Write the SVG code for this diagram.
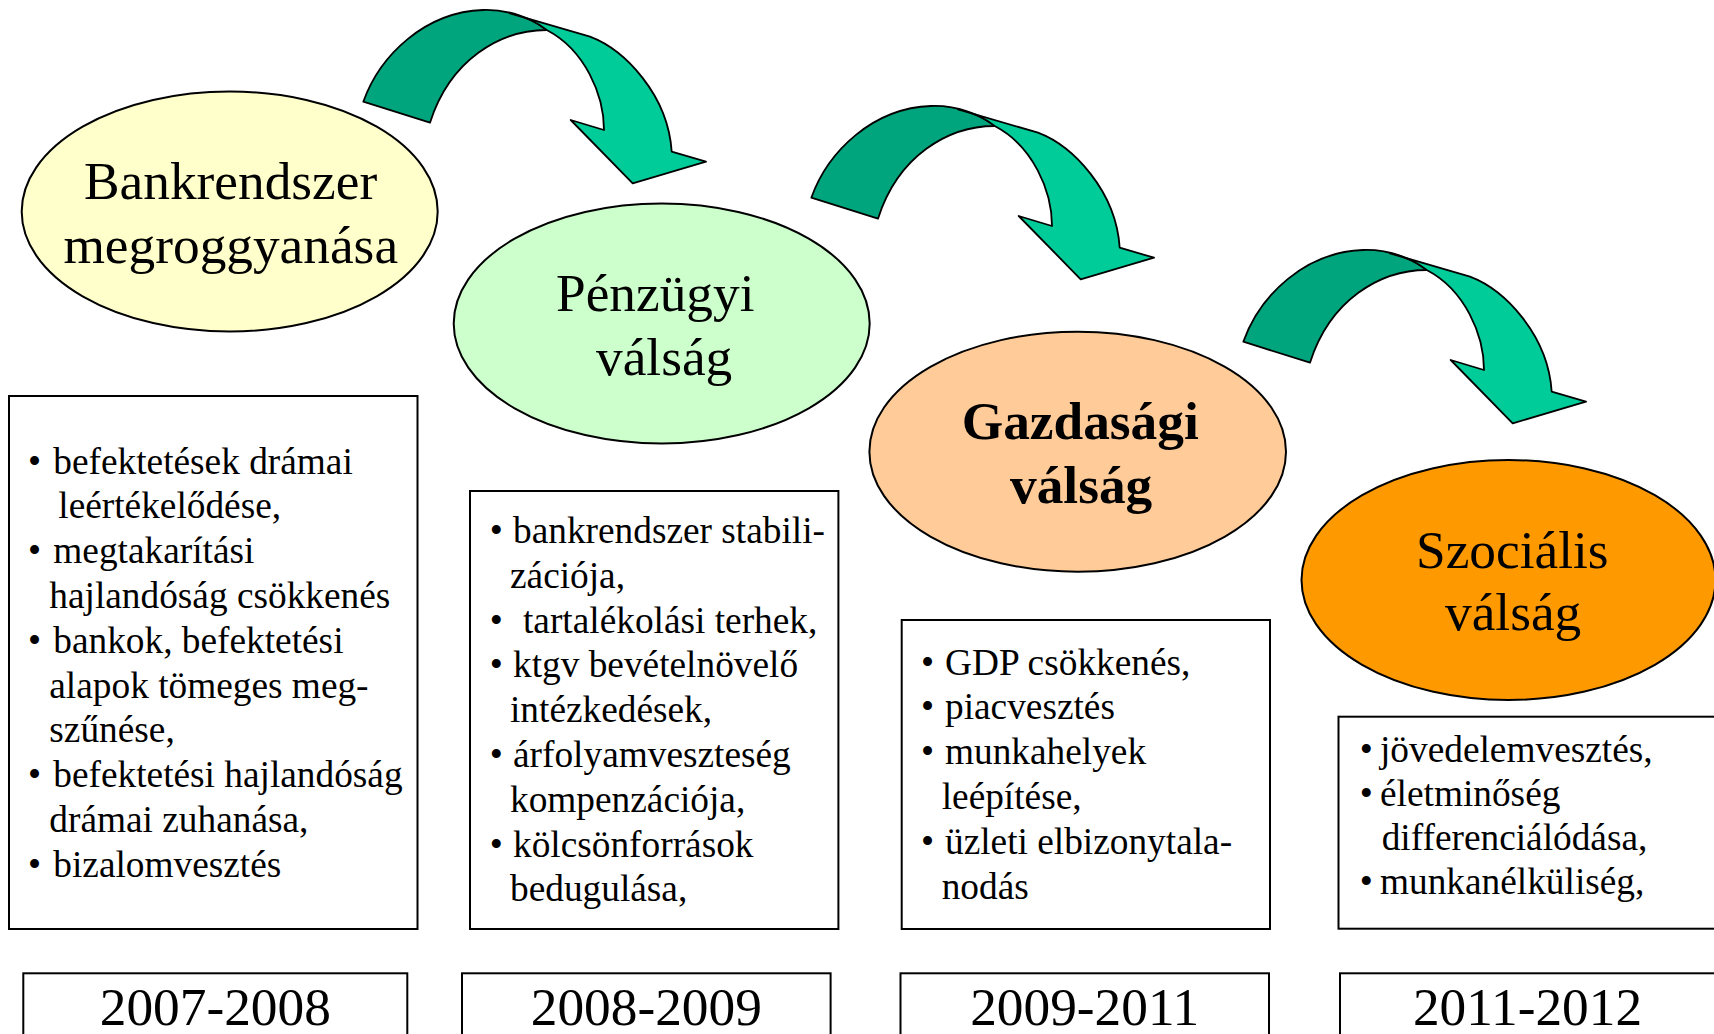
<svg xmlns="http://www.w3.org/2000/svg" width="1714" height="1034" viewBox="0 0 1714 1034">
<style>
  .big { font-family: "Liberation Serif", "Times New Roman", serif; font-size: 53.33px; fill: #000; }
  .bold { font-weight: bold; }
  .yr { font-family: "Liberation Serif", "Times New Roman", serif; font-size: 53.33px; fill: #000; text-anchor: middle; }
  .item { font-family: "Liberation Serif", "Times New Roman", serif; font-size: 37.33px; fill: #000; }
  .ell { stroke: #000; stroke-width: 2; }
  .box { fill: #fff; stroke: #000; stroke-width: 2; }
  .dark { fill: #00A57D; stroke: #000; stroke-width: 1.8; stroke-linejoin: round; }
  .light { fill: #00CC99; stroke: #000; stroke-width: 1.8; stroke-linejoin: round; }
</style>
<rect width="1714" height="1034" fill="#fff"/>

<g id="connectors">
  <g id="arrow1">
    <path class="dark" d="M363.3,101.7 C380,55 425,12 483,10 C510,9 535,20 546.7,30 C500,30 450,60 430,122.7 Z"/>
    <path class="light" d="M510,13.3 L590,36.7 C625,50 668,95 671.7,151.7 L706,161.7 L632.7,183.3 L570.7,120 L604,130 C604,95 585,50 546.7,30 Q532,18 510,13.3 Z"/>
  </g>
  <g id="arrow2" transform="translate(448,96)">
    <path class="dark" d="M363.3,101.7 C380,55 425,12 483,10 C510,9 535,20 546.7,30 C500,30 450,60 430,122.7 Z"/>
    <path class="light" d="M510,13.3 L590,36.7 C625,50 668,95 671.7,151.7 L706,161.7 L632.7,183.3 L570.7,120 L604,130 C604,95 585,50 546.7,30 Q532,18 510,13.3 Z"/>
  </g>
  <g id="arrow3" transform="translate(880,240)">
    <path class="dark" d="M363.3,101.7 C380,55 425,12 483,10 C510,9 535,20 546.7,30 C500,30 450,60 430,122.7 Z"/>
    <path class="light" d="M510,13.3 L590,36.7 C625,50 668,95 671.7,151.7 L706,161.7 L632.7,183.3 L570.7,120 L604,130 C604,95 585,50 546.7,30 Q532,18 510,13.3 Z"/>
  </g>
</g>

<g id="node-bankrendszer">
  <ellipse class="ell" cx="229.7" cy="211.5" rx="208" ry="120" fill="#FFFFCC"/>
  <text class="big" x="84" y="199">Bankrendszer</text>
  <text class="big" x="63.4" y="263">megroggyanása</text>
</g>

<g id="node-penzugyi">
  <ellipse class="ell" cx="661.7" cy="323.5" rx="208" ry="120" fill="#CCFFCC"/>
  <text class="big" x="556" y="311">Pénzügyi</text>
  <text class="big" x="596" y="375">válság</text>
</g>

<g id="node-gazdasagi">
  <ellipse class="ell" cx="1077.7" cy="451.7" rx="208.3" ry="120" fill="#FFCC99"/>
  <text class="big bold" x="961.7" y="439.3">Gazdasági</text>
  <text class="big bold" x="1010" y="503">válság</text>
</g>

<g id="node-szocialis">
  <ellipse class="ell" cx="1508.5" cy="580" rx="207" ry="120" fill="#FF9900"/>
  <text class="big" x="1416" y="568">Szociális</text>
  <text class="big" x="1445" y="630">válság</text>
</g>

<g id="box-1">
  <rect class="box" x="9" y="396" width="408.5" height="533"/>
  <text class="item"><tspan x="28" y="473.5">•</tspan><tspan x="53.3" y="473.5">befektetések drámai</tspan></text>
  <text class="item" x="58.3" y="518.3">leértékelődése,</text>
  <text class="item"><tspan x="28" y="563.1">•</tspan><tspan x="53.3" y="563.1">megtakarítási</tspan></text>
  <text class="item" x="49.3" y="607.9">hajlandóság csökkenés</text>
  <text class="item"><tspan x="28" y="652.7">•</tspan><tspan x="53.3" y="652.7">bankok, befektetési</tspan></text>
  <text class="item" x="49.3" y="697.5">alapok tömeges meg-</text>
  <text class="item" x="49.3" y="742.3">szűnése,</text>
  <text class="item"><tspan x="28" y="787.1">•</tspan><tspan x="53.3" y="787.1">befektetési hajlandóság</tspan></text>
  <text class="item" x="49.3" y="831.9">drámai zuhanása,</text>
  <text class="item"><tspan x="28" y="876.7">•</tspan><tspan x="53.3" y="876.7">bizalomvesztés</tspan></text>
</g>

<g id="box-2">
  <rect class="box" x="470" y="491" width="368.4" height="438"/>
  <text class="item"><tspan x="489.7" y="543">•</tspan><tspan x="513" y="543">bankrendszer stabili-</tspan></text>
  <text class="item" x="510" y="587.8">zációja,</text>
  <text class="item"><tspan x="489.7" y="632.6">•</tspan><tspan x="523" y="632.6">tartalékolási terhek,</tspan></text>
  <text class="item"><tspan x="489.7" y="677.4">•</tspan><tspan x="513" y="677.4">ktgv bevételnövelő</tspan></text>
  <text class="item" x="510" y="722.2">intézkedések,</text>
  <text class="item"><tspan x="489.7" y="767">•</tspan><tspan x="513" y="767">árfolyamveszteség</tspan></text>
  <text class="item" x="510" y="811.8">kompenzációja,</text>
  <text class="item"><tspan x="489.7" y="856.6">•</tspan><tspan x="513" y="856.6">kölcsönforrások</tspan></text>
  <text class="item" x="510" y="901.4">bedugulása,</text>
</g>

<g id="box-3">
  <rect class="box" x="901.7" y="620" width="368.3" height="309"/>
  <text class="item"><tspan x="921" y="674.5">•</tspan><tspan x="945" y="674.5">GDP csökkenés,</tspan></text>
  <text class="item"><tspan x="921" y="719.3">•</tspan><tspan x="945" y="719.3">piacvesztés</tspan></text>
  <text class="item"><tspan x="921" y="764.1">•</tspan><tspan x="945" y="764.1">munkahelyek</tspan></text>
  <text class="item" x="941.7" y="808.9">leépítése,</text>
  <text class="item"><tspan x="921" y="853.7">•</tspan><tspan x="945" y="853.7">üzleti elbizonytala-</tspan></text>
  <text class="item" x="941.7" y="898.5">nodás</text>
</g>

<g id="box-4">
  <rect class="box" x="1338.5" y="716.7" width="390" height="212"/>
  <text class="item"><tspan x="1359.7" y="762">•</tspan><tspan x="1380" y="762">jövedelemvesztés,</tspan></text>
  <text class="item"><tspan x="1359.7" y="806">•</tspan><tspan x="1380" y="806">életminőség</tspan></text>
  <text class="item" x="1381.7" y="850">differenciálódása,</text>
  <text class="item"><tspan x="1359.7" y="894">•</tspan><tspan x="1380" y="894">munkanélküliség,</tspan></text>
</g>

<g id="year-1">
  <rect class="box" x="23.3" y="973.3" width="384" height="80"/>
  <text class="yr" x="215.3" y="1025">2007-2008</text>
</g>
<g id="year-2">
  <rect class="box" x="462" y="973.3" width="368.6" height="80"/>
  <text class="yr" x="646.3" y="1025">2008-2009</text>
</g>
<g id="year-3">
  <rect class="box" x="900.5" y="973.3" width="368.5" height="80"/>
  <text class="yr" x="1084.7" y="1025">2009-2011</text>
</g>
<g id="year-4">
  <rect class="box" x="1340" y="973.3" width="390" height="80"/>
  <text class="yr" x="1527.5" y="1025">2011-2012</text>
</g>
</svg>
